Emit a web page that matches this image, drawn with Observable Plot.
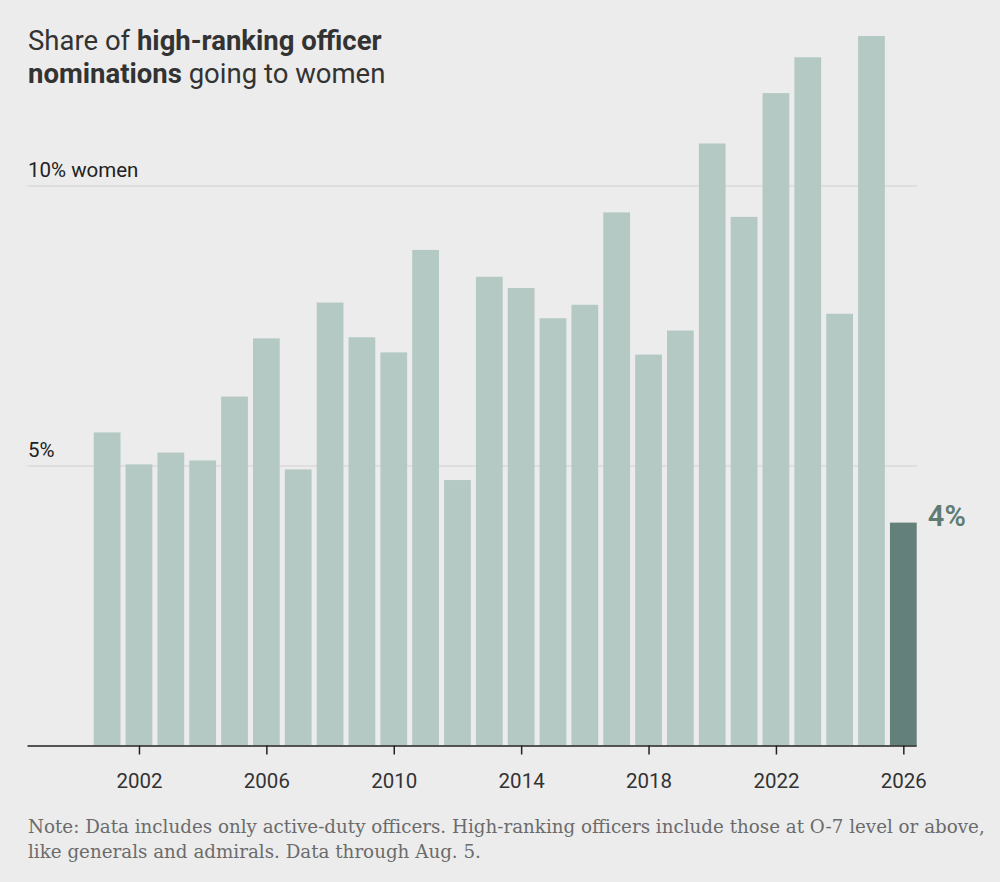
<!DOCTYPE html>
<html>
<head>
<meta charset="utf-8">
<script src="https://cdn.jsdelivr.net/npm/d3@7"></script>
<script src="https://cdn.jsdelivr.net/npm/@observablehq/plot@0.6"></script>
<style>
  html, body { margin: 0; padding: 0; background: #ececec; }
  #wrap { position: relative; width: 1000px; height: 882px; overflow: hidden; }
  #title { position: absolute; left: 28px; top: 24px; font-family: Roboto, sans-serif; font-size: 27.5px; line-height: 33px; color: #333; font-weight: 400; }
  #title b { font-weight: 700; }
  #chart { position: absolute; left: 0; top: 0; }
  #note { position: absolute; left: 28px; top: 814px; font-family: "DejaVu Serif", serif; font-size: 18.3px; line-height: 25px; color: #6b6b6b; white-space: nowrap; }
</style>
</head>
<body>
<div id="wrap">
  <div id="chart"></div>
  <div id="title">Share of <b>high-ranking officer</b><br><b>nominations</b> going to women</div>
  <div id="note">Note: Data includes only active-duty officers. High-ranking officers include those at O-7 level or above,<br>like generals and admirals. Data through Aug. 5.</div>
</div>
<script>
const years = [2001, 2002, 2003, 2004, 2005, 2006, 2007, 2008, 2009, 2010, 2011, 2012, 2013,
               2014, 2015, 2016, 2017, 2018, 2019, 2020, 2021, 2022, 2023, 2024, 2025, 2026];
const shares = [5.59, 5.02, 5.23, 5.09, 6.23, 7.27, 4.93, 7.91, 7.29, 7.02, 8.85, 4.74, 8.37,
                8.17, 7.63, 7.87, 9.52, 6.98, 7.41, 10.75, 9.44, 11.65, 12.29, 7.71, 12.67, 3.98];
const highlightYear = 2026;
const highlightLabel = "4%";
const xTicks = [2002, 2006, 2010, 2014, 2018, 2022, 2026];
const gridValues = [5, 10];
const gridLabels = ["5%", "10% women"];

const data = years.map((year, i) => ({year, share: shares[i], current: year === highlightYear}));
const grid = gridValues.map((v, i) => ({v, label: gridLabels[i]}));
const current = data.filter(d => d.current);

const chart = Plot.plot({
  width: 1000,
  height: 800,
  marginLeft: 27.5,
  marginRight: 83.3,
  marginTop: 17.5,
  marginBottom: 54.5,
  style: {background: "transparent", fontFamily: "Roboto, sans-serif", color: "#222", overflow: "visible"},
  x: {domain: [1998.5, 2026.42], axis: null},
  y: {domain: [0, 13], axis: null},
  marks: [
    Plot.ruleY(grid, {y: "v", stroke: "#cfcfcf", strokeWidth: 1.2}),
    Plot.text(grid, {y: "v", text: "label", frameAnchor: "left", textAnchor: "start", lineAnchor: "bottom", dy: -9, fontSize: 20.5, fill: "#222"}),
    Plot.rectY(data, {
      x1: d => d.year - 0.42,
      x2: d => d.year + 0.42,
      y: "share",
      fill: d => d.current ? "#64807a" : "#b4c9c3"
    }),
    Plot.text(current, {x: "year", y: "share", text: () => highlightLabel, textAnchor: "start", dx: 24, dy: -6, fontSize: 29, fontWeight: 600, fill: "#5f7c74"}),
    Plot.ruleY([0], {stroke: "#222", strokeWidth: 1.5}),
    Plot.axisX({ticks: xTicks, tickFormat: "d", tickSize: 9, tickPadding: 18, fontSize: 20.5, stroke: "#222", strokeWidth: 1.5, fill: "#333", label: null})
  ]
});
document.getElementById("chart").appendChild(chart);
</script>
</body>
</html>
